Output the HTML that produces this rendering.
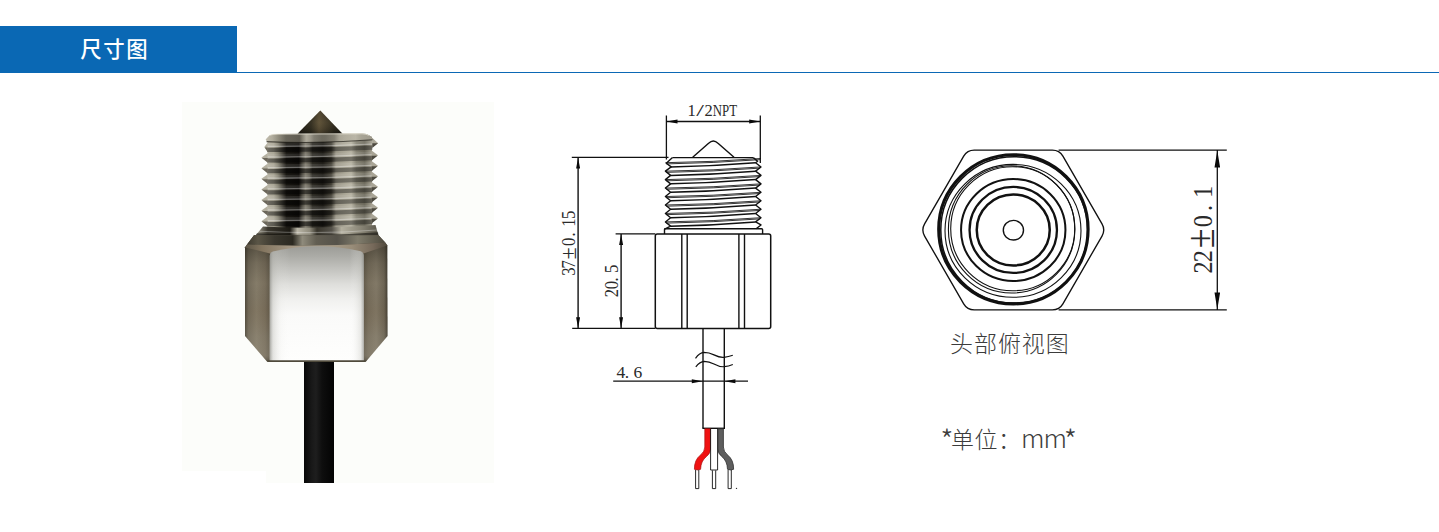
<!DOCTYPE html>
<html lang="zh-CN">
<head>
<meta charset="utf-8">
<title>尺寸图</title>
<style>
html,body{margin:0;padding:0;background:#fff;}
body{width:1439px;height:532px;position:relative;overflow:hidden;font-family:"Liberation Sans","Noto Sans CJK SC",sans-serif;}
.hdr{position:absolute;left:0;top:26px;width:1439px;height:46px;border-bottom:1px solid #0b68b5;box-sizing:content-box;}
.hdr .tab{position:absolute;left:0;top:0;width:237px;height:47px;background:#0a68b4;color:#fff;}
.hdr .tab span{position:absolute;left:80.3px;top:10px;font-size:21.4px;line-height:28px;font-weight:500;letter-spacing:1.6px;white-space:nowrap;}
svg{position:absolute;left:0;top:0;}
.lbl{position:absolute;color:#3c3c3c;font-weight:300;white-space:nowrap;font-family:"Noto Sans CJK SC","Liberation Sans",sans-serif;}
.ast{font-size:30px;line-height:32px;position:relative;top:4.2px;letter-spacing:-2.6px;}
.ast2{margin-left:-2.4px;}
.mm{font-size:26px;letter-spacing:-0.9px;margin-left:-0.6px;line-height:32px;}
.dim{font-family:"Liberation Serif","Noto Serif CJK SC",serif;fill:#2a2a2a;}
</style>
</head>
<body>
<div class="hdr"><div class="tab"><span>尺寸图</span></div></div>
<svg width="1439" height="532" viewBox="0 0 1439 532">

<defs>
<linearGradient id="gCable" x1="0" x2="1" y1="0" y2="0">
 <stop offset="0" stop-color="#070707"/><stop offset=".25" stop-color="#181818"/><stop offset=".4" stop-color="#1e1e1e"/><stop offset=".6" stop-color="#0e0e0e"/><stop offset="1" stop-color="#030303"/>
</linearGradient>
<linearGradient id="gCone" x1="0" x2="1" y1="0" y2="0">
 <stop offset="0" stop-color="#4a4638"/><stop offset=".06" stop-color="#1f1d15"/><stop offset=".3" stop-color="#2d2a1e"/><stop offset=".48" stop-color="#5e5239"/><stop offset=".6" stop-color="#4a412e"/><stop offset=".8" stop-color="#2a271c"/><stop offset="1" stop-color="#1e1c15"/>
</linearGradient>
<linearGradient id="gConeV" x1="0" x2="0" y1="0" y2="1">
 <stop offset="0" stop-color="#000" stop-opacity=".15"/><stop offset=".5" stop-color="#7a6a45" stop-opacity=".12"/><stop offset="1" stop-color="#000" stop-opacity=".3"/>
</linearGradient>
<linearGradient id="gThread" x1="0" x2="1" y1="0" y2="0">
 <stop offset="0" stop-color="#b5b1a1"/>
 <stop offset=".06" stop-color="#aaa696"/>
 <stop offset=".1" stop-color="#858273"/>
 <stop offset=".15" stop-color="#403d35"/>
 <stop offset=".18" stop-color="#191712"/>
 <stop offset=".3" stop-color="#0f0d0a"/>
 <stop offset=".33" stop-color="#4a473e"/>
 <stop offset=".365" stop-color="#7d796c"/>
 <stop offset=".4" stop-color="#605d52"/>
 <stop offset=".43" stop-color="#2c2a23"/>
 <stop offset=".53" stop-color="#1c1a15"/>
 <stop offset=".61" stop-color="#423f35"/>
 <stop offset=".655" stop-color="#9a9687"/>
 <stop offset=".8" stop-color="#b6b2a2"/>
 <stop offset=".85" stop-color="#858273"/>
 <stop offset=".93" stop-color="#6c695b"/>
 <stop offset="1" stop-color="#a19d8d"/>
</linearGradient>
<linearGradient id="gGroove" x1="0" x2="1" y1="0" y2="0">
 <stop offset="0" stop-color="#000" stop-opacity=".38"/><stop offset=".1" stop-color="#000" stop-opacity=".5"/><stop offset=".6" stop-color="#000" stop-opacity=".5"/><stop offset=".68" stop-color="#000" stop-opacity=".36"/><stop offset="1" stop-color="#000" stop-opacity=".36"/>
</linearGradient>
<linearGradient id="gRim" x1="0" x2="1" y1="0" y2="0">
 <stop offset="0" stop-color="#c9c5b6"/><stop offset=".1" stop-color="#a5a191"/><stop offset=".3" stop-color="#8f8b7c"/><stop offset=".36" stop-color="#cdc9ba"/><stop offset=".5" stop-color="#9d998a"/><stop offset=".7" stop-color="#b9b5a6"/><stop offset="1" stop-color="#c2beaf"/>
</linearGradient>
<linearGradient id="gNeck" x1="0" x2="1" y1="0" y2="0">
 <stop offset="0" stop-color="#aaa696"/><stop offset=".1" stop-color="#3a372e"/><stop offset=".28" stop-color="#1b1913"/><stop offset=".34" stop-color="#b9b5a6"/><stop offset=".44" stop-color="#8f8b7c"/><stop offset=".5" stop-color="#37342b"/><stop offset=".62" stop-color="#55524a"/><stop offset=".7" stop-color="#b3af9f"/><stop offset=".85" stop-color="#8b8778"/><stop offset="1" stop-color="#5b584c"/>
</linearGradient>
<linearGradient id="gHexSide" x1="0" x2="1" y1="0" y2="0">
 <stop offset="0" stop-color="#514b3e"/><stop offset=".025" stop-color="#746c5b"/><stop offset=".08" stop-color="#857c69"/><stop offset=".14" stop-color="#796f5d"/><stop offset=".172" stop-color="#655d4d"/><stop offset=".5" stop-color="#8a8370"/><stop offset=".83" stop-color="#635b4b"/><stop offset=".865" stop-color="#776e5c"/><stop offset=".92" stop-color="#827967"/><stop offset=".975" stop-color="#6d6554"/><stop offset="1" stop-color="#433e33"/>
</linearGradient>
<linearGradient id="gHexSideV" x1="0" x2="0" y1="0" y2="1">
 <stop offset="0" stop-color="#1a170f" stop-opacity=".6"/><stop offset=".1" stop-color="#1a170f" stop-opacity=".38"/><stop offset=".22" stop-color="#1a170f" stop-opacity=".15"/><stop offset=".38" stop-color="#1a170f" stop-opacity="0"/><stop offset=".6" stop-color="#5a3e20" stop-opacity=".08"/><stop offset=".8" stop-color="#b0ada0" stop-opacity=".12"/><stop offset=".95" stop-color="#b0ada0" stop-opacity=".2"/><stop offset="1" stop-color="#3a372e" stop-opacity=".4"/>
</linearGradient>
<linearGradient id="gHexTop" x1="0" x2="1" y1="0" y2="0">
 <stop offset="0" stop-color="#3d392e"/><stop offset=".08" stop-color="#5a5546"/><stop offset=".2" stop-color="#3a372e"/><stop offset=".33" stop-color="#2b2921"/><stop offset=".4" stop-color="#8f8b7c"/><stop offset=".5" stop-color="#625e52"/><stop offset=".65" stop-color="#55524a"/><stop offset=".8" stop-color="#807c6c"/><stop offset="1" stop-color="#4d493d"/>
</linearGradient>
<linearGradient id="gBevel" x1="0" x2="1" y1="0" y2="0">
 <stop offset="0" stop-color="#5c5546"/><stop offset=".12" stop-color="#83755f"/><stop offset=".3" stop-color="#a09380"/><stop offset=".5" stop-color="#b0a592"/><stop offset=".75" stop-color="#998d79"/><stop offset=".9" stop-color="#76695a"/><stop offset="1" stop-color="#4f493c"/>
</linearGradient>
<linearGradient id="gFront" x1="0" x2="0" y1="0" y2="1">
 <stop offset="0" stop-color="#9c9c97"/><stop offset=".09" stop-color="#acaca7"/><stop offset=".21" stop-color="#c5c5c1"/><stop offset=".33" stop-color="#dededb"/><stop offset=".46" stop-color="#f0f0ee"/><stop offset=".6" stop-color="#fafaf9"/><stop offset="1" stop-color="#fefefd"/>
</linearGradient>
<linearGradient id="gFrontV" x1="0" x2="1" y1="0" y2="0">
 <stop offset="0" stop-color="#8c8c86" stop-opacity=".75"/><stop offset=".035" stop-color="#b9b9b3" stop-opacity=".4"/><stop offset=".12" stop-color="#e0e0dc" stop-opacity=".12"/><stop offset=".22" stop-color="#fff" stop-opacity="0"/><stop offset=".85" stop-color="#fff" stop-opacity="0"/><stop offset=".965" stop-color="#c4c4be" stop-opacity=".35"/><stop offset="1" stop-color="#8a8a84" stop-opacity=".7"/>
</linearGradient>
</defs>

<g id="photo">
<rect x="182" y="102" width="312" height="369" fill="#fcfdfa"/>
<rect x="266" y="470" width="228" height="13" fill="#fcfdfa"/>
<rect x="304" y="360" width="30" height="123" fill="url(#gCable)"/>
<path d="M320.3 110.5 L342.5 133.8 L297.5 133.8 Z" fill="url(#gCone)"/>
<path d="M320.3 110.5 L342.5 133.8 L297.5 133.8 Z" fill="url(#gConeV)"/>
<path d="M267.5 138.0 L372 136.5 L372 234 L267.5 234 Z" fill="url(#gThread)"/>
<path d="M267 147.8 Q320 148.2 372.5 145.5 L372.5 149.7 Q320 152.4 267 152 Z" fill="url(#gGroove)"/>
<path d="M266 146.4 Q320 146.8 373.5 144.1" stroke="#fff" stroke-width="1.3" fill="none" opacity=".34"/>
<path d="M266 144.8 Q320 145.2 373.5 142.5" stroke="#fff" stroke-width="3.4" fill="none" opacity=".10"/>
<path d="M267 158.4 Q320 158.8 372.5 156.1 L372.5 160.3 Q320 163 267 162.6 Z" fill="url(#gGroove)"/>
<path d="M266 157 Q320 157.4 373.5 154.7" stroke="#fff" stroke-width="1.3" fill="none" opacity=".34"/>
<path d="M266 155.4 Q320 155.8 373.5 153.1" stroke="#fff" stroke-width="3.4" fill="none" opacity=".10"/>
<path d="M267 169 Q320 169.4 372.5 166.7 L372.5 170.9 Q320 173.6 267 173.2 Z" fill="url(#gGroove)"/>
<path d="M266 167.6 Q320 168 373.5 165.3" stroke="#fff" stroke-width="1.3" fill="none" opacity=".34"/>
<path d="M266 166 Q320 166.4 373.5 163.7" stroke="#fff" stroke-width="3.4" fill="none" opacity=".10"/>
<path d="M267 179.6 Q320 180 372.5 177.3 L372.5 181.5 Q320 184.2 267 183.8 Z" fill="url(#gGroove)"/>
<path d="M266 178.2 Q320 178.6 373.5 175.9" stroke="#fff" stroke-width="1.3" fill="none" opacity=".34"/>
<path d="M266 176.6 Q320 177 373.5 174.3" stroke="#fff" stroke-width="3.4" fill="none" opacity=".10"/>
<path d="M267 190.2 Q320 190.6 372.5 187.9 L372.5 192.1 Q320 194.8 267 194.4 Z" fill="url(#gGroove)"/>
<path d="M266 188.8 Q320 189.2 373.5 186.5" stroke="#fff" stroke-width="1.3" fill="none" opacity=".34"/>
<path d="M266 187.2 Q320 187.6 373.5 184.9" stroke="#fff" stroke-width="3.4" fill="none" opacity=".10"/>
<path d="M267 200.8 Q320 201.2 372.5 198.5 L372.5 202.7 Q320 205.4 267 205 Z" fill="url(#gGroove)"/>
<path d="M266 199.4 Q320 199.8 373.5 197.1" stroke="#fff" stroke-width="1.3" fill="none" opacity=".34"/>
<path d="M266 197.8 Q320 198.2 373.5 195.5" stroke="#fff" stroke-width="3.4" fill="none" opacity=".10"/>
<path d="M267 211.4 Q320 211.8 372.5 209.1 L372.5 213.3 Q320 216 267 215.6 Z" fill="url(#gGroove)"/>
<path d="M266 210 Q320 210.4 373.5 207.7" stroke="#fff" stroke-width="1.3" fill="none" opacity=".34"/>
<path d="M266 208.4 Q320 208.8 373.5 206.1" stroke="#fff" stroke-width="3.4" fill="none" opacity=".10"/>
<path d="M267 222 Q320 222.4 372.5 219.7 L372.5 223.9 Q320 226.6 267 226.2 Z" fill="url(#gGroove)"/>
<path d="M266 220.6 Q320 221 373.5 218.3" stroke="#fff" stroke-width="1.3" fill="none" opacity=".34"/>
<path d="M266 219 Q320 219.4 373.5 216.7" stroke="#fff" stroke-width="3.4" fill="none" opacity=".10"/>
<path d="M267 232.6 Q320 233 372.5 230.3 L372.5 234 Q320 234 267 234 Z" fill="url(#gGroove)"/>
<path d="M266 231.2 Q320 231.6 373.5 228.9" stroke="#fff" stroke-width="1.3" fill="none" opacity=".34"/>
<path d="M266 229.6 Q320 230 373.5 227.3" stroke="#fff" stroke-width="3.4" fill="none" opacity=".10"/>
<path d="M265.7 139.6 L269.5 135.4 Q272 134 278 133.9 L362 133.5 Q367 133.7 369.5 135.6 L378 143.3 L372.3 147.2 L372.3 140 Q320 143.6 267.5 142 Z" fill="url(#gThread)"/>
<path d="M265.7 139.6 L269.5 135.4 Q272 134 278 133.9 L362 133.5 Q367 133.7 369.5 135.6 L378 143.3 L372.3 147.2 L372.3 140 Q320 143.6 267.5 142 Z" fill="url(#gRim)" opacity=".62"/>
<path d="M270 135.2 Q272 134.2 278 134.2 L362 133.8 Q366.5 134 368.8 135.4" stroke="#e4e0d2" stroke-width="1" fill="none" opacity=".75"/>
<path d="M266.5 141.6 Q320 144 372.5 139.8" stroke="#1c1a14" stroke-width="1.1" fill="none" opacity=".65"/>
<path d="M372.3 143.3 L378 143.3 L372.3 148 Z" fill="#36332a" opacity=".8"/>
<path d="M267.8 142.4 L264.28 147 L267.8 152 Z" fill="#b4b0a0"/>
<path d="M267.8 147.4 L264.68 147.4 L267.8 152.2 Z" fill="#4b473c" opacity=".7"/>
<path d="M267.8 153 L261.4 157.6 L267.8 162.6 Z" fill="#b4b0a0"/>
<path d="M267.8 158 L261.8 158 L267.8 162.8 Z" fill="#4b473c" opacity=".7"/>
<path d="M267.8 163.6 L261.4 168.2 L267.8 173.2 Z" fill="#b4b0a0"/>
<path d="M267.8 168.6 L261.8 168.6 L267.8 173.4 Z" fill="#4b473c" opacity=".7"/>
<path d="M267.8 174.2 L261.4 178.8 L267.8 183.8 Z" fill="#b4b0a0"/>
<path d="M267.8 179.2 L261.8 179.2 L267.8 184 Z" fill="#4b473c" opacity=".7"/>
<path d="M267.8 184.8 L261.4 189.4 L267.8 194.4 Z" fill="#b4b0a0"/>
<path d="M267.8 189.8 L261.8 189.8 L267.8 194.6 Z" fill="#4b473c" opacity=".7"/>
<path d="M267.8 195.4 L261.4 200 L267.8 205 Z" fill="#b4b0a0"/>
<path d="M267.8 200.4 L261.8 200.4 L267.8 205.2 Z" fill="#4b473c" opacity=".7"/>
<path d="M267.8 206 L261.4 210.6 L267.8 215.6 Z" fill="#b4b0a0"/>
<path d="M267.8 211 L261.8 211 L267.8 215.8 Z" fill="#4b473c" opacity=".7"/>
<path d="M267.8 216.6 L261.4 221.2 L267.8 226.2 Z" fill="#b4b0a0"/>
<path d="M267.8 221.6 L261.8 221.6 L267.8 226.4 Z" fill="#4b473c" opacity=".7"/>
<path d="M371.6 150.5 L378 155.3 L371.6 160.3 Z" fill="#a9a595"/>
<path d="M371.6 155.8 L377.5 155.8 L371.6 160.5 Z" fill="#36332a" opacity=".8"/>
<path d="M371.6 161 L378 165.8 L371.6 170.8 Z" fill="#a9a595"/>
<path d="M371.6 166.3 L377.5 166.3 L371.6 171 Z" fill="#36332a" opacity=".8"/>
<path d="M371.6 171.5 L378 176.3 L371.6 181.3 Z" fill="#a9a595"/>
<path d="M371.6 176.8 L377.5 176.8 L371.6 181.5 Z" fill="#36332a" opacity=".8"/>
<path d="M371.6 182 L378 186.8 L371.6 191.8 Z" fill="#a9a595"/>
<path d="M371.6 187.3 L377.5 187.3 L371.6 192 Z" fill="#36332a" opacity=".8"/>
<path d="M371.6 192.5 L378 197.3 L371.6 202.3 Z" fill="#a9a595"/>
<path d="M371.6 197.8 L377.5 197.8 L371.6 202.5 Z" fill="#36332a" opacity=".8"/>
<path d="M371.6 203 L378 207.8 L371.6 212.8 Z" fill="#a9a595"/>
<path d="M371.6 208.3 L377.5 208.3 L371.6 213 Z" fill="#36332a" opacity=".8"/>
<path d="M371.6 213.5 L378 218.3 L371.6 223.3 Z" fill="#a9a595"/>
<path d="M371.6 218.8 L377.5 218.8 L371.6 223.5 Z" fill="#36332a" opacity=".8"/>
<path d="M263 226.5 Q320 229.5 375.5 225 L378.5 235.5 L255.5 235.5 Z" fill="url(#gNeck)"/>
<path d="M259.5 231.2 Q320 234.6 377 230" stroke="#fff" stroke-width="1.1" fill="none" opacity=".3"/>
<path d="M257 233.2 Q320 237 378 232.2 L378.5 235.5 L255.5 235.5 Z" fill="#14120d" opacity=".6"/>
<path d="M254 235.3 L378.5 235.3 L387.3 245.5 L387.6 336 L366 361.6 L267 361.6 L245 336 L245 247.3 Z" fill="url(#gHexSide)"/>
<path d="M254 235.3 L378.5 235.3 L387.3 245.5 L387.6 336 L366 361.6 L267 361.6 L245 336 L245 247.3 Z" fill="url(#gHexSideV)"/>
<path d="M254 235.3 L378.5 235.3 L385.5 242.6 Q317 247.5 247 244.6 Z" fill="url(#gHexTop)"/>
<path d="M247 244.6 Q317 247.5 385.5 242.6 L387.3 245.5 L363.5 253.5 Q317 240.8 270 253.5 L245.2 247.4 Z" fill="url(#gBevel)"/>
<path d="M269.8 256 Q269.8 252.6 273 251.6 Q317 241.2 360.5 251.2 Q363.8 252.2 363.8 256 L363.8 361 L269.8 361 Z" fill="url(#gFront)"/>
<path d="M269.8 256 Q269.8 252.6 273 251.6 Q317 241.2 360.5 251.2 Q363.8 252.2 363.8 256 L363.8 361 L269.8 361 Z" fill="url(#gFrontV)"/>
<path d="M266.5 360.2 L366.5 360.2 L365.5 362 L267.5 362 Z" fill="#4f4a3b"/>
</g>
<g id="drawing">
<path d="M666.4 115.5 V159.5 M760.3 115.5 V163" stroke="#111" fill="none" stroke-width="1.3"/>
<path d="M666.4 121.5 H760.3" stroke="#111" fill="none" stroke-width="1.3"/>
<path d="M666.7 121.5 l10.8 -2 v4 Z M760 121.5 l-10.8 -2 v4 Z" fill="#0a0a0a"/>
<path d="M692.7 157.3 L708.6 143.2 Q713.3 138.6 718 143.2 L734 157.3" stroke="#111" fill="none" stroke-width="1.4"/>
<path d="M672.5 157.6 L666.3 163.2 L671.2 166.93 L665.4 171.16 L670.6 175.39 L665.4 179.62 L670.6 183.85 L665.4 188.08 L670.6 192.31 L665.4 196.54 L670.6 200.77 L665.4 205 L670.6 209.23 L665.4 213.46 L670.6 217.69 L665.4 221.92 L670.6 226.15 L664.6 229.2" stroke="#111" fill="none" stroke-width="1.4" stroke-linejoin="round"/>
<path d="M753.3 157.6 L757.6 161.3 L755.6 162.7 L761 166.93 L755.6 171.16 L761 175.39 L755.6 179.62 L761 183.85 L755.6 188.08 L761 192.31 L755.6 196.54 L761 200.77 L755.6 205 L761 209.23 L755.6 213.46 L761 217.69 L755.6 221.92 L761 224.95 L756.1 228.8" stroke="#111" fill="none" stroke-width="1.4" stroke-linejoin="round"/>
<path d="M672.5 157.6 H753.3" stroke="#111" fill="none" stroke-width="1.3"/>
<path d="M665.4 162.7 Q713 162.1 761 158.47 M666.4 163.9 Q713 163.1 760 159.67 M665.4 171.16 Q713 170.56 761 166.93 M666.4 172.36 Q713 171.56 760 168.13 M665.4 179.62 Q713 179.02 761 175.39 M666.4 180.82 Q713 180.02 760 176.59 M665.4 188.08 Q713 187.48 761 183.85 M666.4 189.28 Q713 188.48 760 185.05 M665.4 196.54 Q713 195.94 761 192.31 M666.4 197.74 Q713 196.94 760 193.51 M665.4 205 Q713 204.4 761 200.77 M666.4 206.2 Q713 205.4 760 201.97 M665.4 213.46 Q713 212.86 761 209.23 M666.4 214.66 Q713 213.86 760 210.43 M665.4 221.92 Q713 221.32 761 217.69 M666.4 223.12 Q713 222.32 760 218.89 " stroke="#111" fill="none" stroke-width="0.85"/>
<path d="M670.6 166.93 Q713 166.13 755.6 162.7 M670.6 175.39 Q713 174.59 755.6 171.16 M670.6 183.85 Q713 183.05 755.6 179.62 M670.6 192.31 Q713 191.51 755.6 188.08 M670.6 200.77 Q713 199.97 755.6 196.54 M670.6 209.23 Q713 208.43 755.6 205 M670.6 217.69 Q713 216.89 755.6 213.46 M670.6 226.15 Q713 225.35 755.6 221.92 " stroke="#111" fill="none" stroke-width="1.5"/>
<path d="M670.6 228.8 H756 M664.5 233.9 V229.5 Q664.5 228.8 665.5 228.8 H761.5 Q762.6 228.8 762.6 229.8 V233.9" stroke="#111" fill="none" stroke-width="1.4"/>
<path d="M657.3 233.9 H768.7 Q770.7 233.9 770.7 235.9 V326.4 Q770.7 328.4 768.7 328.4 H657.3 Q655.3 328.4 655.3 326.4 V235.9 Q655.3 233.9 657.3 233.9 Z" stroke="#111" fill="none" stroke-width="1.5"/>
<path d="M681.8 234 V328.3 M687.2 234 V328.3 M738.9 234 V328.3 M744.5 234 V328.3" stroke="#111" fill="none" stroke-width="1.4"/>
<path d="M571.8 157.4 H668.5 M572.2 328.4 H655.3 M615.6 233.9 H655.3" stroke="#111" fill="none" stroke-width="1.35"/>
<path d="M578.1 157.6 V328.2 M621.1 234 V328.2" stroke="#111" fill="none" stroke-width="1.4"/>
<path d="M578.1 157.8 l-2 10.8 h4 Z M578.1 328 l-2 -10.8 h4 Z M621.1 234.3 l-2 10.8 h4 Z M621.1 328 l-2 -10.8 h4 Z" fill="#0a0a0a"/>
<path d="M703 328.4 V428.3 M724.3 328.4 V428.3" stroke="#111" fill="none" stroke-width="1.4"/>
<path d="M695.5 358.4 Q699.5 352.6 704 352.4 Q709 352.4 714 354.9 Q720 357.8 724 357.3 Q728.5 356.8 732.8 355.2 M695.8 366.9 Q699.8 361.6 704.3 361.4 Q709 361.4 714 364 Q720 367.2 724.3 366.7 Q728.5 366.2 732.8 364.5" stroke="#111" fill="none" stroke-width="1.2"/>
<path d="M613.2 381.2 H748" stroke="#111" fill="none" stroke-width="1.3"/>
<path d="M702.6 381.2 l-10.8 -2 v4 Z M724.6 381.2 l10.8 -2 v4 Z" fill="#0a0a0a"/>
<path d="M702.4 428.3 H725" stroke="#111" fill="none" stroke-width="1.4"/>
<path d="M704.8 428.8 H710.4 V449 Q710.4 453.5 706.5 456.5 Q700.8 461 700.6 469.3 Q697.5 470.6 694.4 469.3 Q694.2 460 700.5 455 Q704.8 451.5 704.8 447 Z" fill="#f01212" stroke="#a81010" stroke-width=".7"/>
<path d="M710.6 428.8 V470 H717.6 V428.8" stroke="#111" fill="none" stroke-width=".9" stroke="#444"/>
<path d="M717.9 428.8 H723.4 V447 Q723.4 451.5 727.6 455 Q733.8 460 733.6 469.3 Q730.5 470.6 727.5 469.3 Q727.3 461 721.8 456.5 Q717.9 453.5 717.9 449 Z" fill="#5e5e5e" stroke="#2e2e2e" stroke-width=".8"/>
<path d="M695.6 470 V488.6 H698.8 V470 M712.4 470.4 V488.6 H715.7 V470.4 M728.1 470 V488.6 H731.3 V470" stroke="#111" fill="none" stroke-width=".9" stroke="#555"/>
<circle cx="736.5" cy="488.4" r=".7" fill="#333"/>
<text class="dim" font-size="16.5" y="116.3"><tspan x="687.4">1</tspan><tspan x="696.3" textLength="7.7" lengthAdjust="spacingAndGlyphs">/</tspan><tspan x="704.4">2</tspan><tspan x="712.8" textLength="24.3" lengthAdjust="spacingAndGlyphs">NPT</tspan></text>
<text class="dim" font-size="18" transform="translate(575 275.8) rotate(-90) scale(.92 1)" x="0 7.9 17.6 32.4 42.8 53.2 61.8" y="0">37<tspan font-size="24" dy="1">±</tspan><tspan dy="-1">0.15</tspan></text>
<text class="dim" font-size="18" transform="translate(618.1 297.3) rotate(-90) scale(.92 1)" x="0 8.7 17.2 26.4" y="0">20.5</text>
<text class="dim" font-size="17.5" x="616.4 624.7 633.4" y="377.6">4.6</text>
</g>
<g id="topview">
<path d="M924.6 236.06 Q921.1 230 924.6 223.94 L963.7 156.16 Q967.2 150.1 974.2 150.1 L1052.4 150.1 Q1059.4 150.1 1062.9 156.16 L1102 223.94 Q1105.5 230 1102 236.06 L1062.9 303.84 Q1059.4 309.9 1052.4 309.9 L974.2 309.9 Q967.2 309.9 963.7 303.84 Z" stroke="#111" fill="none" stroke-width="1.35"/>
<path d="M1058.6 150.15 H1226.8 M1058.6 309.9 H1226.8 M1217.3 150.3 V309.7" stroke="#111" fill="none" stroke-width="1.3"/>
<path d="M1217.3 150.4 l-2.8 17.2 h5.6 Z M1217.3 309.6 l-2.8 -17.2 h5.6 Z" fill="#0a0a0a"/>
<ellipse cx="1013.4" cy="229.3" rx="74.7" ry="74.6" stroke="#111" fill="none" stroke-width="3.1"/>
<ellipse cx="1014.2" cy="229.9" rx="73.4" ry="73.2" stroke="#111" fill="none" stroke-width="1.5"/>
<ellipse cx="1013" cy="230.85" rx="68" ry="66.45" stroke="#111" fill="none" stroke-width="1.1"/>
<ellipse cx="1012.75" cy="228.7" rx="62.05" ry="62" stroke="#111" fill="none" stroke-width="1.1"/>
<ellipse cx="1011.6" cy="229.4" rx="63.2" ry="63.6" stroke="#111" fill="none" stroke-width="1.1"/>
<ellipse cx="1013.25" cy="230" rx="52.2" ry="51" stroke="#111" fill="none" stroke-width="2.0"/>
<ellipse cx="1013.25" cy="229.95" rx="43.7" ry="43" stroke="#111" fill="none" stroke-width="2.3"/>
<ellipse cx="1013.25" cy="229.95" rx="36.5" ry="35.5" stroke="#111" fill="none" stroke-width="2.5"/>
<ellipse cx="1013.4" cy="230.2" rx="10.1" ry="9.8" stroke="#111" fill="none" stroke-width="1.4"/>
<text class="dim" font-size="27" transform="translate(1212 273.6) rotate(-90) scale(.9 1)" x="0 12.6 28.2 51.6 69.6 83.9" y="0">22<tspan font-size="40" dy="1.6">±</tspan><tspan dy="-1.6">0.1</tspan></text>
</g>
</svg>
<div class="lbl" style="left:950px;top:326px;font-size:23px;line-height:32px;letter-spacing:0.95px;">头部俯视图</div>
<div class="lbl" style="left:940.3px;top:418.5px;font-size:23px;line-height:32px;letter-spacing:0.5px;"><span class="ast">*</span>单位：<span class="mm">mm</span><span class="ast ast2">*</span></div>
</body>
</html>
